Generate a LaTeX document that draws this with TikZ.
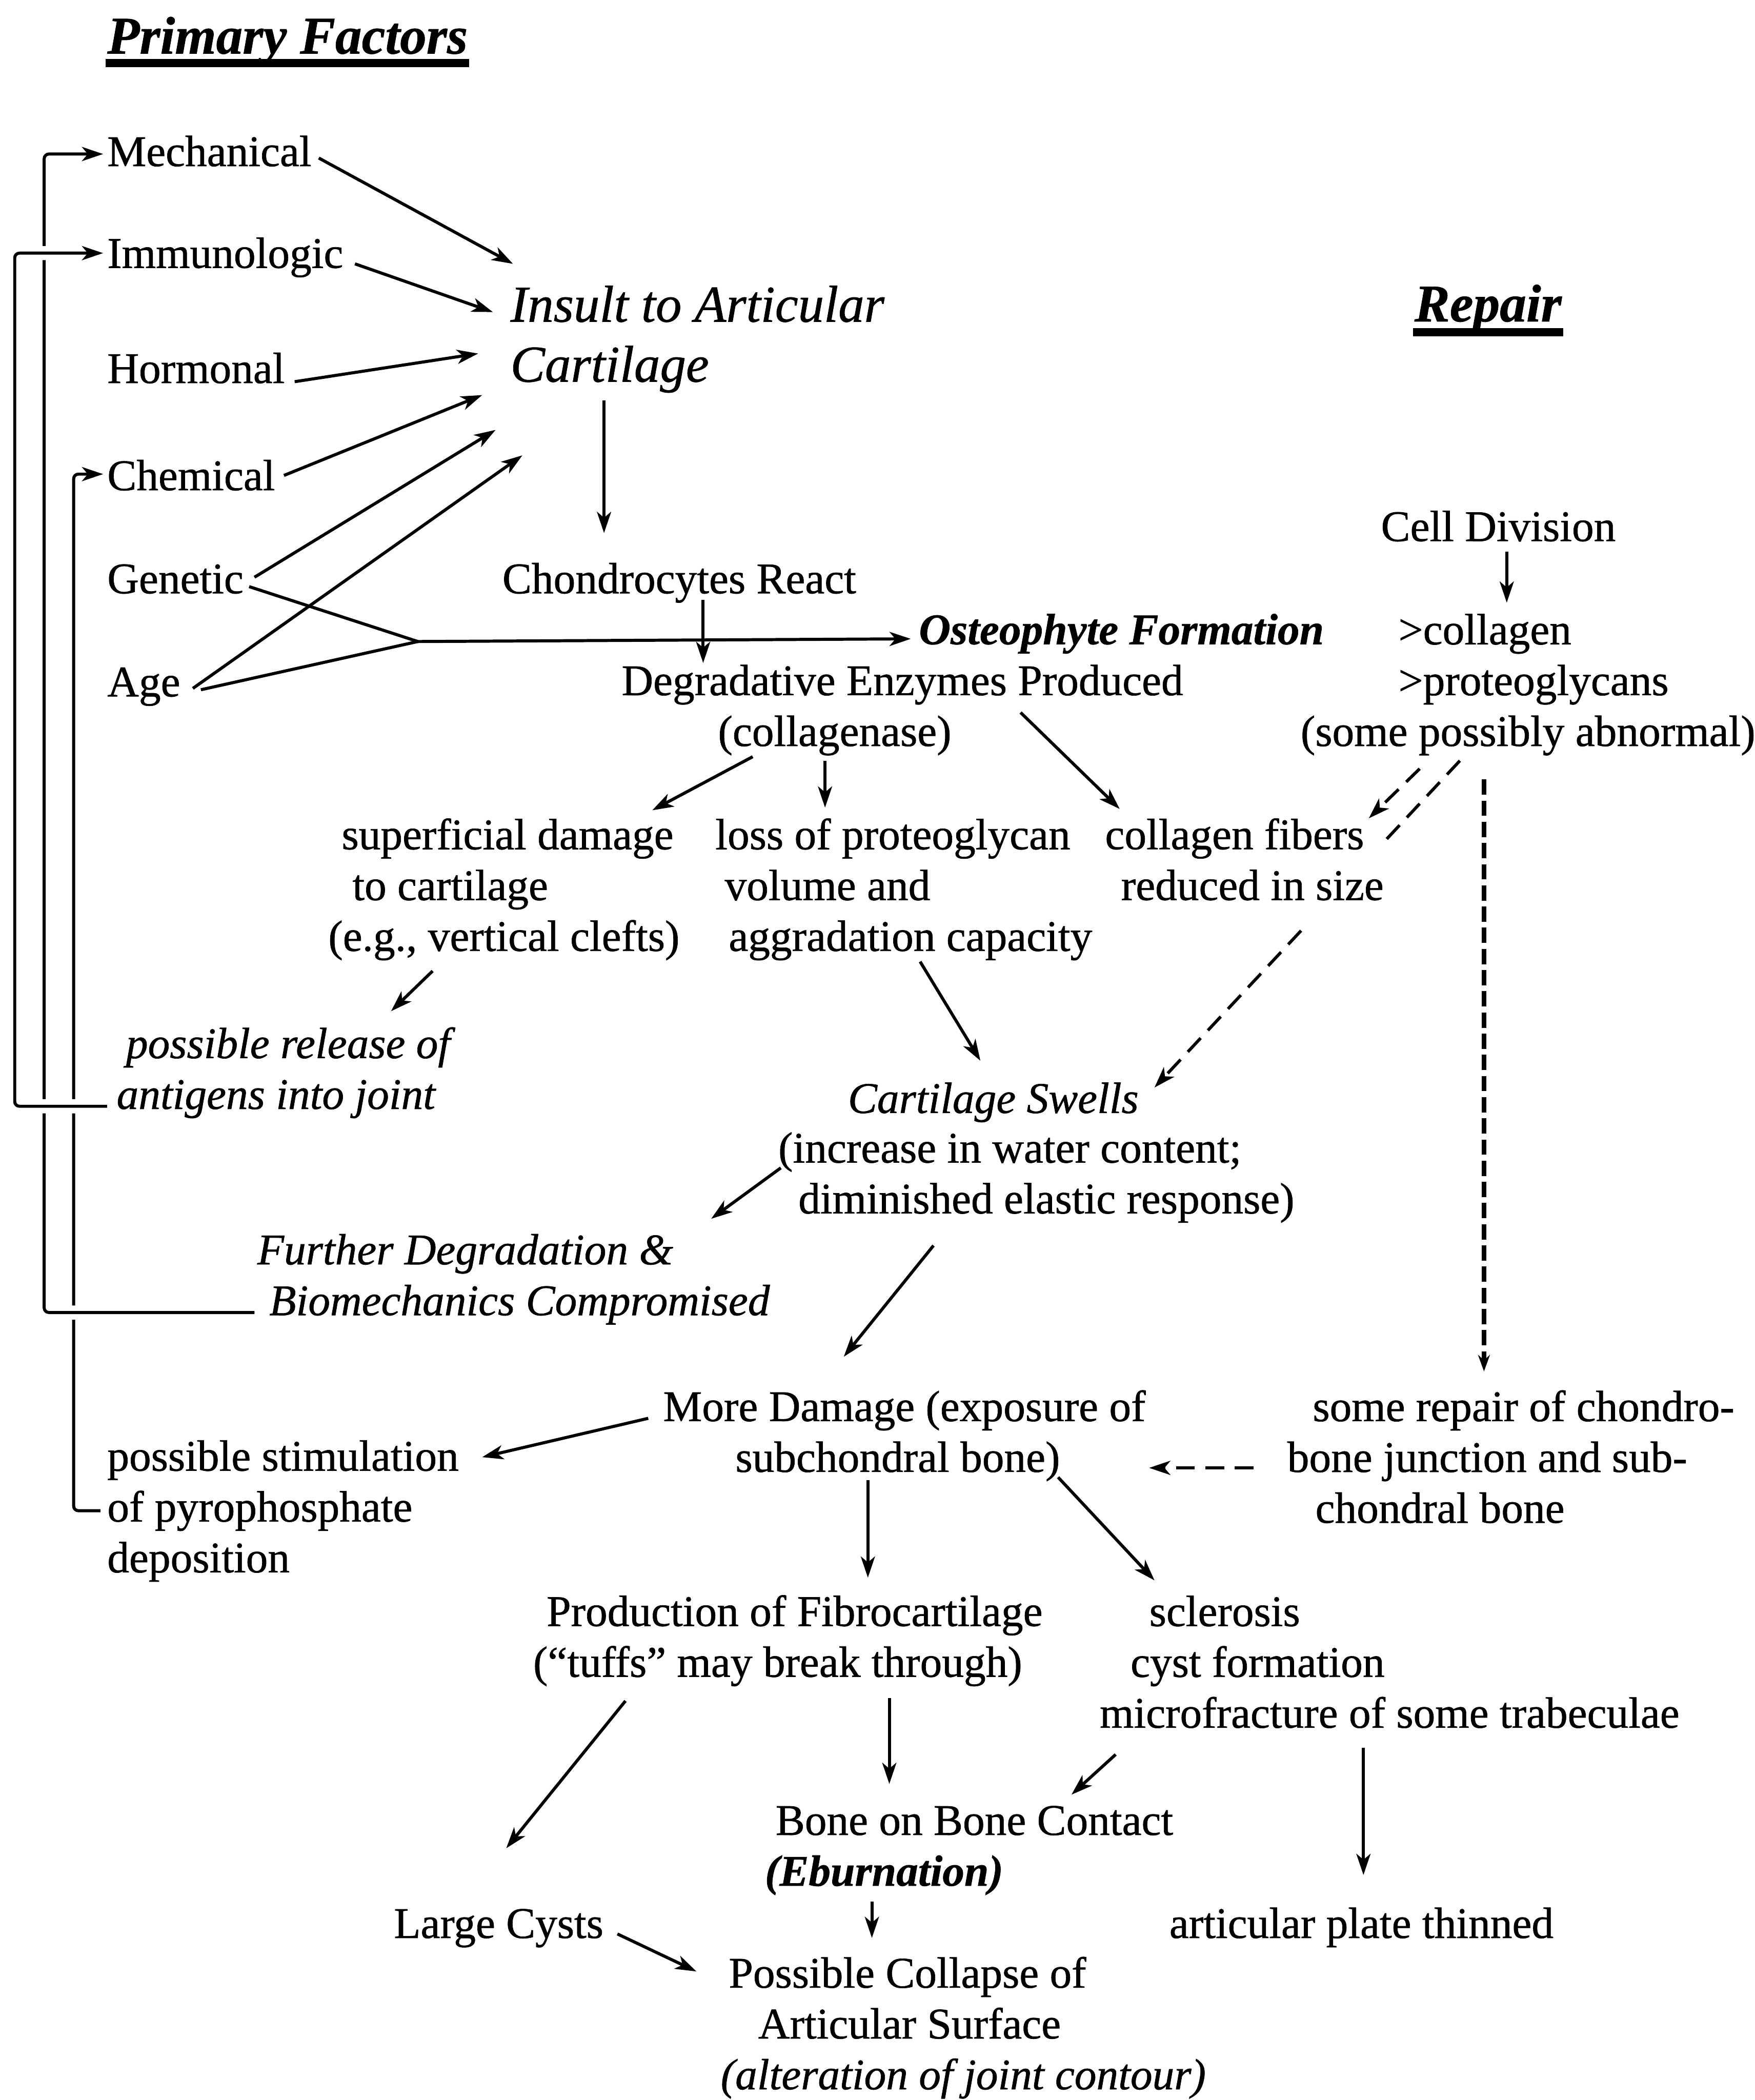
\documentclass[tikz,border=0pt]{standalone}
\usepackage{fontspec}
\setmainfont{Liberation Serif}[FakeBold=0.8]
\usepackage{tikz}
\usetikzlibrary{arrows.meta,calc}

\begin{document}
\begin{tikzpicture}[->, >={Stealth[length=9pt,width=6pt,inset=2.5pt]}, x=0.02cm, y=-0.02cm, line width=1.3pt]
\tikzstyle{every node}=[inner sep=0pt, anchor=base west, align=left, font=\fontsize{18.6}{21.6}\selectfont]
\tikzstyle{ital}=[font=\fontsize{18.6}{21.6}\selectfont\itshape]
\tikzstyle{bital}=[font=\fontsize{18.6}{21.6}\selectfont\bfseries\itshape]
\tikzstyle{big}=[font=\fontsize{22}{25.5}\selectfont\itshape]
\tikzstyle{head}=[font=\fontsize{22.5}{26}\selectfont\bfseries\itshape]
\tikzstyle{fb}=[->, rounded corners=2pt]
\tikzstyle{gap}=[preaction={draw=white, line width=6pt, -}]
\tikzstyle{dsh}=[dash pattern=on 8pt off 4.5pt]
\tikzstyle{dots}=[line width=2pt, dash pattern=on 6.5pt off 2.5pt, >={Stealth[length=7pt,width=5pt]}]
\useasboundingbox (0,0) rectangle (1310,1568);

% headings
\node (pf)  at (79,40)    [head] {Primary Factors};
\node (rep) at (1055,240) [head] {Repair};
\draw[-, line width=3.5pt] ([shift={(0,7)}]pf.base west) -- ([shift={(0,7)}]pf.base east);
\draw[-, line width=3.5pt] ([shift={(0,8)}]rep.base west) -- ([shift={(0,8)}]rep.base east);

% primary factors
\node (mech) at (79,124) {Mechanical};
\node (imm)  at (79,200) {Immunologic};
\node (hor)  at (79,286) {Hormonal};
\node (chem) at (79,366) {Chemical};
\node (gen)  at (79,443) {Genetic};
\node (age)  at (79,520) {Age};

% main chain
\node (ins) at (380,285) [big] {Insult to Articular\\Cartilage};
\node (cho) at (374,443) {Chondrocytes React};
\node (ost) at (685,481) [bital] {Osteophyte Formation};
\node (deg) at (463,557) {Degradative Enzymes Produced\\\hspace*{1.44cm}(collagenase)};
\node (sup) at (244,710) {\hspace*{0.2cm}superficial damage\\\hspace*{0.36cm}to cartilage\\(e.g., vertical clefts)};
\node (los) at (533,710) {loss of proteoglycan\\\hspace*{0.14cm}volume and\\\hspace*{0.2cm}aggradation capacity};
\node (col) at (824,672) {collagen fibers\\\hspace*{0.24cm}reduced in size};
\node (rel) at (86,828) [ital] {\hspace*{0.14cm}possible release of\\antigens into joint};
\node (swl) at (632,831) [ital] {Cartilage Swells};
\node (inc) at (580,906) {(increase in water content;\\\hspace*{0.3cm}diminished elastic response)};
\node (fur) at (191,982) [ital] {Further Degradation \&\\\hspace*{0.18cm}Biomechanics Compromised};
\node (mor) at (494,1099) {More Damage (exposure of\\\hspace*{1.08cm}subchondral bone)};
\node (sti) at (79,1174) {possible stimulation\\of pyrophosphate\\deposition};
\node (pro) at (397,1252) {\hspace*{0.2cm}Production of Fibrocartilage\\(“tuffs” may break through)};
\node (scl) at (820,1290) {\hspace*{0.74cm}sclerosis\\\hspace*{0.46cm}cyst formation\\microfracture of some trabeculae};
\node (bon) at (570,1408) {\hspace*{0.16cm}Bone on Bone Contact\\\textbf{\textit{(Eburnation)}}};
\node (lcy) at (293,1447) {Large Cysts};
\node (apt) at (872,1447) {articular plate thinned};
\node (clp) at (537,1560) {\hspace*{0.12cm}Possible Collapse of\\\hspace*{0.56cm}Articular Surface\\\textit{(alteration of joint contour)}};

% repair
\node (cel) at (1030,404) {Cell Division};
\node (pgl) at (970,557) {\hspace*{1.46cm}>collagen\\\hspace*{1.46cm}>proteoglycans\\(some possibly abnormal)};
\node (srp) at (960,1137) {\hspace*{0.38cm}some repair of chondro-\\bone junction and sub-\\\hspace*{0.42cm}chondral bone};

% factors into the insult
\draw ([shift={(159,-6)}]mech.base west) -- ([shift={(3,-88)}]ins.base west);
\draw ([shift={(186,-3)}]imm.base west) -- ([shift={(-12,-52)}]ins.base west);
\draw ([shift={(141,-1)}]hor.base west) -- ([shift={(-23,-21)}]ins.base west);
\draw ([shift={(133,-11)}]chem.base west) -- ([shift={(-20,10)}]ins.base west);
\draw ([shift={(111,-12)}]gen.base west) -- ([shift={(-10,36)}]ins.base west);
\draw ([shift={(65,-6)}]age.base west) -- ([shift={(10,55)}]ins.base west);
\coordinate (jn) at (312,479);
\draw[-] ([shift={(107,-5)}]gen.base west) -- (jn);
\draw[-] ([shift={(71,-5)}]age.base west) -- (jn);
\draw (jn) -- ([shift={(-5,-4)}]ost.base west);

% degradation
\draw ([shift={(71,14)}]ins.base west) -- ([shift={(77,-45)}]cho.base west);
\draw ([shift={(151,5)}]cho.base west) -- ([shift={(62,-62)}]deg.base west);
\draw ([shift={(99,8)}]deg.base west) -- ([shift={(243,-105)}]sup.base west);
\draw ([shift={(153,11)}]deg.base west) -- ([shift={(83,-107)}]los.base west);
\draw ([shift={(299,-25)}]deg.base west) -- ([shift={(12,-68)}]col.base west);
\draw ([shift={(79,15)}]sup.base west) -- ([shift={(206,-73)}]rel.base west);
\draw ([shift={(154,8)}]los.base west) -- ([shift={(100,-39)}]swl.base west);
\draw ([shift={(3,-34)}]inc.base west) -- ([shift={(340,-72)}]fur.base west);
\draw ([shift={(117,24)}]inc.base west) -- ([shift={(136,-86)}]mor.base west);
\draw ([shift={(-10,-40)}]mor.base west) -- ([shift={(281,-86)}]sti.base west);
\draw ([shift={(154,6)}]mor.base west) -- ([shift={(251,-74)}]pro.base west);
\draw ([shift={(296,4)}]mor.base west) -- ([shift={(42,-110)}]scl.base west);
\draw ([shift={(70,18)}]pro.base west) -- ([shift={(85,-67)}]lcy.base west);
\draw ([shift={(267,16)}]pro.base west) -- ([shift={(94,-76)}]bon.base west);
\draw ([shift={(13,20)}]scl.base west) -- ([shift={(230,-68)}]bon.base west);
\draw ([shift={(198,15)}]scl.base west) -- ([shift={(146,-47)}]apt.base west);
\draw ([shift={(81,12)}]bon.base west) -- ([shift={(114,-113)}]clp.base west);
\draw ([shift={(168,-3)}]lcy.base west) -- ([shift={(-17,-88)}]clp.base west);

% repair paths
\draw ([shift={(95,8)}]cel.base west) -- ([shift={(155,-107)}]pgl.base west);
\draw[dsh] ([shift={(90,17)}]pgl.base west) -- ([shift={(198,-61)}]col.base west);
\coordinate (d1) at ([shift={(120,11)}]pgl.base west);
\coordinate (d2) at ([shift={(230,-19)}]swl.base west);
\draw[dsh,-] (d1) -- ($(d1)!0.26!(d2)$);
\draw[dsh] ($(d1)!0.52!(d2)$) -- (d2);
\draw[dots] ([shift={(138,25)}]pgl.base west) -- ([shift={(148,-113)}]srp.base west);
\draw[dsh] ([shift={(-24,-41)}]srp.base west) -- ([shift={(364,-3)}]mor.base west);

% feedback loops
\coordinate (railA) at (11,0);
\coordinate (railB) at (33,0);
\coordinate (railC) at (55,0);
\draw[fb] ([shift={(-4,-46)}]sti.base west) coordinate (s3) -- (s3 -| railC) |- ([shift={(-2,-12)}]chem.base west);
\draw[fb,gap] ([shift={(-1,-2)}]fur.base west) coordinate (s2) -- (s2 -| railB) |- ([shift={(-2,-9)}]mech.base west);
\draw[fb,gap] ([shift={(-6,-2)}]rel.base west) coordinate (s1) -- (s1 -| railA) |- ([shift={(-2,-11)}]imm.base west);
\end{tikzpicture}
\end{document}
